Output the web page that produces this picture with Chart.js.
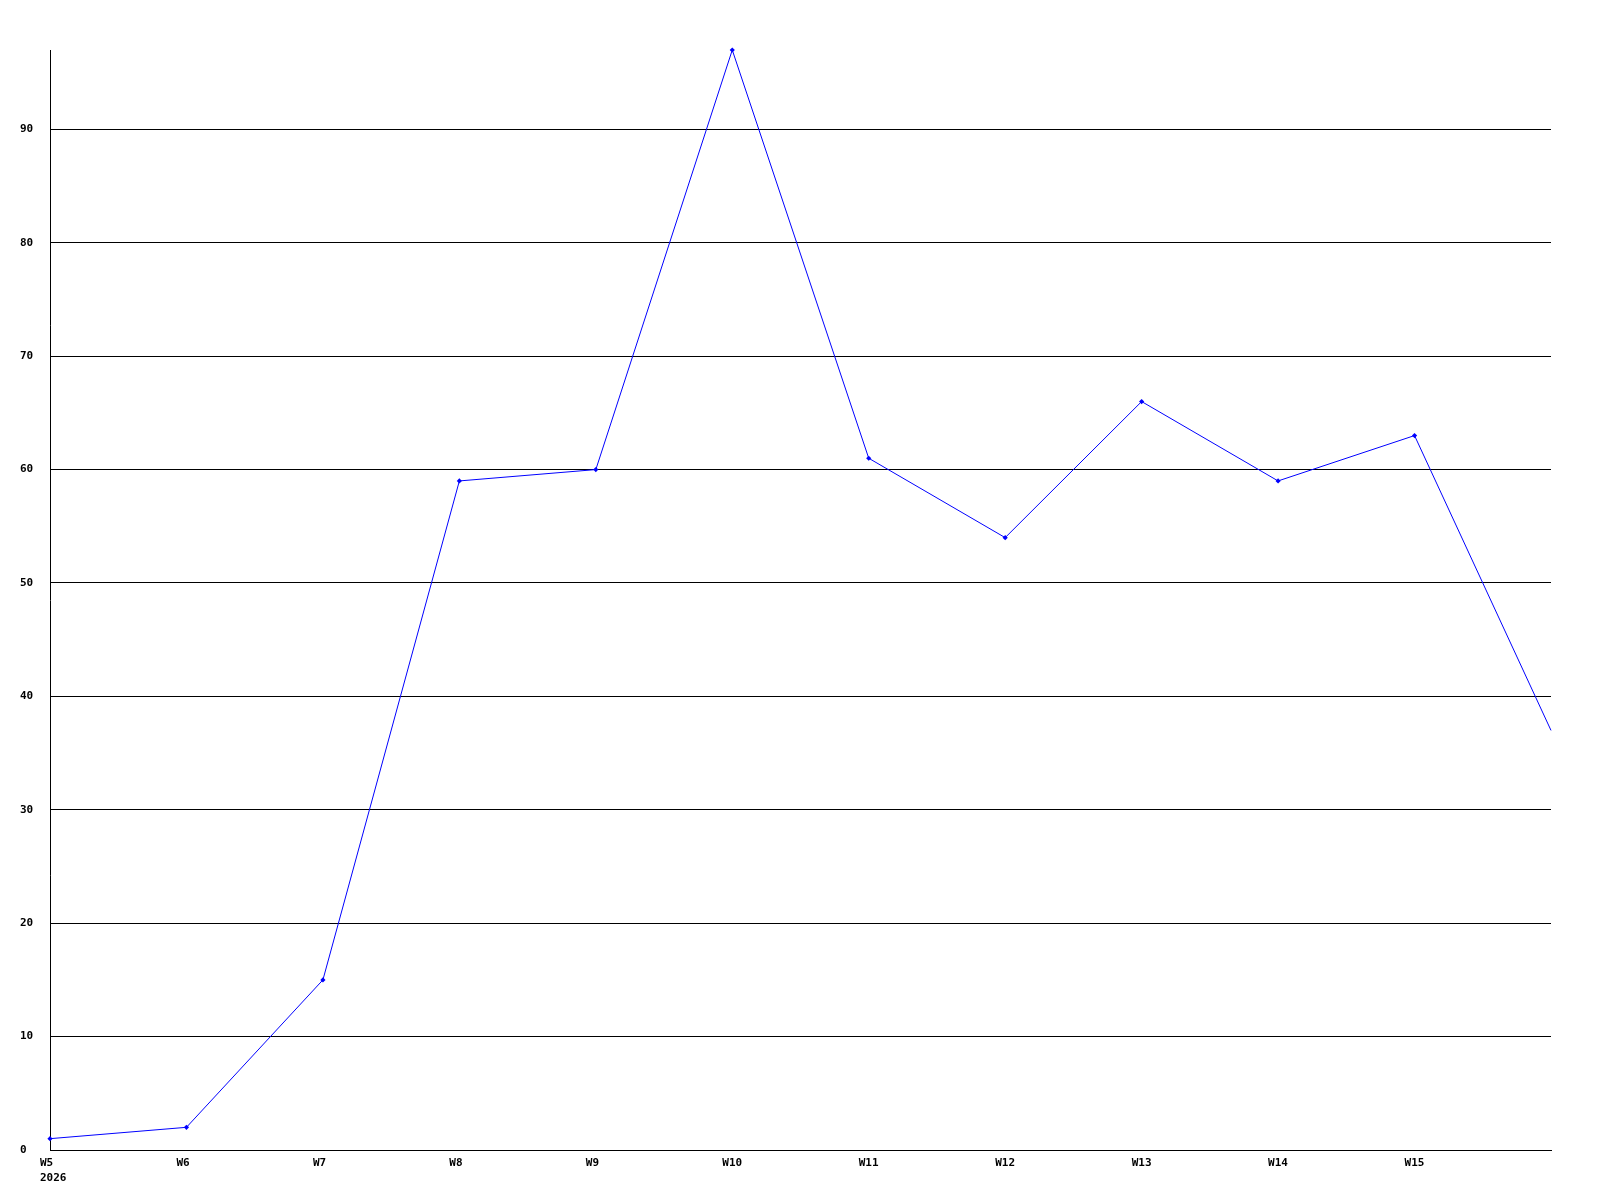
<!DOCTYPE html>
<html>
<head>
<meta charset="utf-8">
<script src="https://cdn.jsdelivr.net/npm/chart.js@4/dist/chart.umd.min.js"></script>
<style>
html,body{margin:0;padding:0;background:#fff;}
#wrap{width:1600px;height:1200px;position:relative;}
</style>
</head>
<body>
<div id="wrap"><canvas id="c" width="1600" height="1200"></canvas></div>
<script>
const weeks = ['W5','W6','W7','W8','W9','W10','W11','W12','W13','W14','W15','W16'];
const yearLabel = '2026';
const counts = [1, 2, 15, 59, 60, 97, 61, 54, 66, 59, 63, 37];
const yTicks = [0,10,20,30,40,50,60,70,80,90];
const yMax = 97;

const font = {family: '"DejaVu Sans Mono", monospace', size: 11, weight: 'bold'};

new Chart(document.getElementById('c'), {
  type: 'line',
  data: {
    labels: weeks,
    datasets: [{
      data: counts,
      borderColor: '#0000ff',
      backgroundColor: '#0000ff',
      borderWidth: 1,
      pointStyle: 'rectRot',
      pointRadius: counts.map((v,i) => i === counts.length - 1 ? 0 : 2.6),
      pointBorderWidth: 0,
      tension: 0,
      fill: false,
      clip: false
    }]
  },
  options: {
    responsive: false,
    animation: false,
    devicePixelRatio: 1,
    layout: {padding: {left: 20, top: 50, right: 49, bottom: 0}},
    plugins: {legend: {display: false}, tooltip: {enabled: false}},
    scales: {
      x: {
        type: 'category',
        offset: false,
        grid: {display: false, drawTicks: false},
        border: {display: true, color: '#000', width: 1},
        ticks: {
          color: '#000',
          font: Object.assign({}, font, {lineHeight: 1.4}),
          align: 'start',
          labelOffset: -10,
          padding: 5,
          autoSkip: false,
          maxRotation: 0,
          callback: function(val, i) {
            if (i === weeks.length - 1) return '';
            if (i === 0) return [weeks[i], yearLabel];
            return weeks[i];
          }
        },
        afterFit: function(s) { s.height = 50; }
      },
      y: {
        min: 0,
        max: yMax,
        grid: {
          color: '#000',
          lineWidth: 1,
          drawTicks: false
        },
        border: {display: true, color: '#000', width: 1},
        ticks: {
          color: '#000',
          font: font,
          crossAlign: 'far',
          padding: 0,
          stepSize: 10
        },
        afterBuildTicks: function(s) {
          s.ticks = yTicks.map(v => ({value: v}));
        },
        afterFit: function(s) { s.width = 30; }
      }
    }
  }
});
</script>
</body>
</html>
